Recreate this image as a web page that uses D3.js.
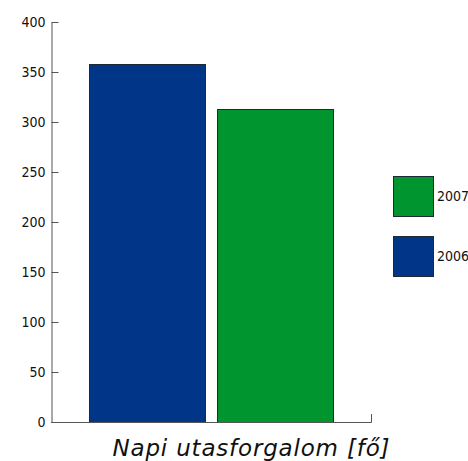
<!DOCTYPE html>
<html><head><meta charset="utf-8">
<script src="https://cdn.jsdelivr.net/npm/d3@7"></script>
<style>body{margin:0;background:#fff;} svg{display:block;}</style>
</head><body>
<script>
const categories = ["Napi utasforgalom [fő]"];
const seriesNames = ["2006", "2007"];
const values2006 = [358];
const values2007 = [313];
const yTicks = [0, 50, 100, 150, 200, 250, 300, 350, 400];
const legendOrder = ["2007", "2006"];
const colors = {"2006": "#003587", "2007": "#00952f"};

(function () {
const W = 468, H = 461;
const svg = d3.select("body").append("svg").attr("width", W).attr("height", H);
const pLeft = 51, pRight = 371, pTop = 22, pBottom = 422;

const y = d3.scaleLinear().domain([0, 400]).range([pBottom, pTop]);
const x0 = d3.scaleBand().domain(categories).range([pLeft, pRight]).paddingInner(0).paddingOuter(0.1557);
const x1 = d3.scaleBand().domain(seriesNames).range([0, x0.bandwidth()]).paddingInner(0.094).paddingOuter(0);

const data = [];
categories.forEach((c, i) => {
  data.push({cat: c, s: "2006", v: values2006[i]});
  data.push({cat: c, s: "2007", v: values2007[i]});
});

svg.selectAll("rect.bar").data(data).enter().append("rect")
  .attr("class", "bar")
  .attr("x", d => x0(d.cat) + x1(d.s) + 0.5)
  .attr("y", d => y(d.v) + 0.5)
  .attr("width", x1.bandwidth())
  .attr("height", d => y(0) - y(d.v))
  .attr("fill", d => colors[d.s])
  .attr("stroke", "#1e2a33")
  .attr("stroke-width", 1);

// y axis
const yAxis = d3.axisRight(y).tickValues(yTicks).tickSize(7).tickFormat("").tickSizeOuter(0);
const gy = svg.append("g").attr("transform", `translate(${pLeft + 0.5},0)`).call(yAxis);
gy.select(".domain").attr("stroke", "#555");
gy.selectAll(".tick line").attr("stroke", d => d === 0 ? "#1f4fa0" : "#555");
svg.append("g").selectAll("text").data(yTicks).enter().append("text")
  .attr("x", 45.5).attr("y", d => y(d)).attr("dy", "0.36em")
  .attr("text-anchor", "end")
  .attr("font-family", "DejaVu Sans Condensed, DejaVu Sans")
  .attr("font-size", 14).attr("fill", "#111")
  .text(d => d);

// x axis
svg.append("line").attr("x1", pLeft).attr("x2", pRight + 0.5).attr("y1", pBottom + 0.5).attr("y2", pBottom + 0.5)
  .attr("stroke", "#555");
svg.append("line").attr("x1", pRight + 0.5).attr("x2", pRight + 0.5).attr("y1", pBottom - 8).attr("y2", pBottom + 0.5)
  .attr("stroke", "#555");

// category label
svg.append("text").attr("x", 251).attr("y", 456)
  .attr("text-anchor", "middle")
  .attr("font-family", "DejaVu Sans")
  .attr("font-style", "italic")
  .attr("font-size", 23).attr("fill", "#111")
  .attr("textLength", 277).attr("lengthAdjust", "spacing")
  .text(categories[0]);

// legend
const lg = svg.append("g").attr("transform", "translate(393,176)");
legendOrder.forEach((s, i) => {
  lg.append("rect").attr("x", 0.5).attr("y", i * 60 + 0.5).attr("width", 40).attr("height", 40)
    .attr("fill", colors[s]).attr("stroke", "#1e2a33");
  lg.append("text").attr("x", 44).attr("y", i * 60 + 20).attr("dy", "0.36em")
    .attr("font-family", "DejaVu Sans Condensed, DejaVu Sans")
    .attr("font-size", 14).attr("fill", "#111").text(s);
});
})();
</script>
</body></html>
